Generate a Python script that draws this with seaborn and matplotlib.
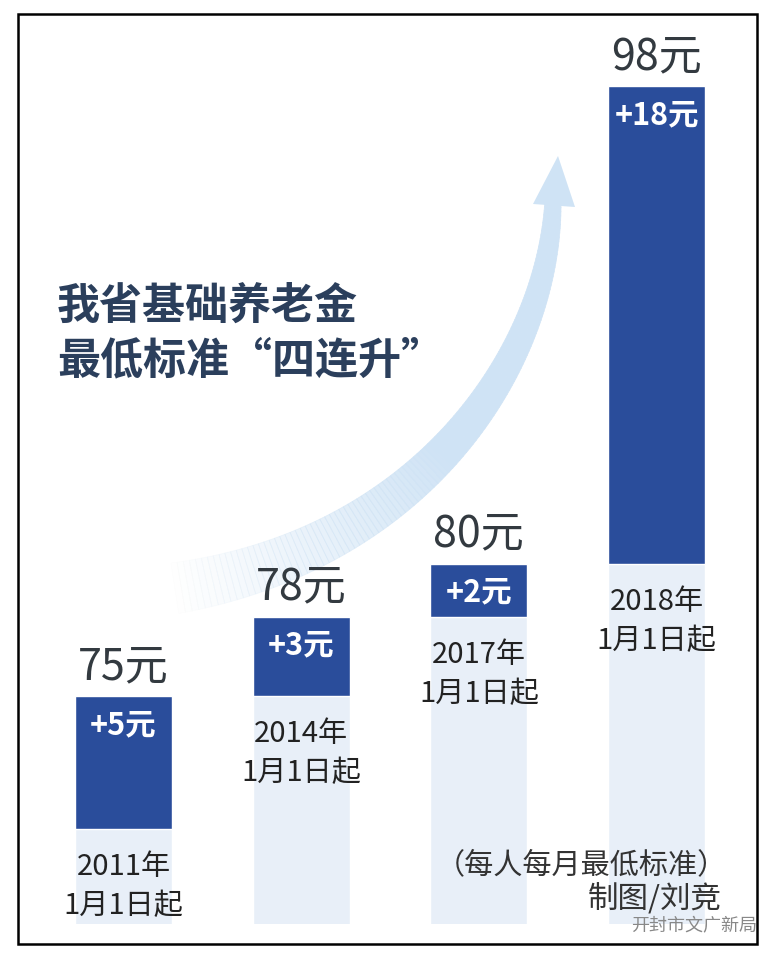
import numpy as np
import matplotlib
matplotlib.use("Agg")
import matplotlib.pyplot as plt
from matplotlib.patches import Rectangle, Polygon
from matplotlib.collections import PolyCollection
import seaborn as sns

# data
years = ["2011", "2014", "2017", "2018"]
values = [75, 78, 80, 98]
increase = [5, 3, 2, 18]
value_labels = ["75元", "78元", "80元", "98元"]
increase_labels = ["+5元", "+3元", "+2元", "+18元"]
date_labels = ["2011年\n1月1日起", "2014年\n1月1日起", "2017年\n1月1日起", "2018年\n1月1日起"]
base = [v - d for v, d in zip(values, increase)]

dark = "#2a4d9b"
light = "#e8eff8"

sns.set_style("white")
plt.rcParams['font.family'] = ['Noto Sans CJK SC', 'DejaVu Sans']

W, H = 780, 962
fig = plt.figure(figsize=(W / 100, H / 100), dpi=100)

# background layer in pixel coordinates (arrow, title)
bg = fig.add_axes([0, 0, 1, 1], zorder=0)
bg.set_xlim(0, W)
bg.set_ylim(H, 0)
bg.axis("off")

# curved arrow: cubic bezier centre line, tapering and fading towards the tail
p0, p1, p2, p3 = map(np.array, [(155, 592), (420, 560), (550, 360), (553, 200)])
t = np.linspace(0, 1, 120)
pts = ((1 - t) ** 3)[:, None] * p0 + (3 * (1 - t) ** 2 * t)[:, None] * p1 \
    + (3 * (1 - t) * t ** 2)[:, None] * p2 + (t ** 3)[:, None] * p3
d = np.gradient(pts, axis=0)
d /= np.linalg.norm(d, axis=1)[:, None]
nrm = np.stack([-d[:, 1], d[:, 0]], axis=1)
half = 26 - 18 * t
left = pts + nrm * half[:, None]
right = pts - nrm * half[:, None]
quads = [[left[i], left[i + 1], right[i + 1], right[i]] for i in range(len(t) - 1)]
alpha = np.clip((t[:-1] - 0.02) * 2.2, 0, 1)
cols = [(0.81, 0.89, 0.96, a) for a in alpha]
bg.add_collection(PolyCollection(quads, facecolors=cols, edgecolors=cols, linewidths=0.5))
bg.add_patch(Polygon([(533, 205), (558, 157), (575, 208)], closed=True,
                     facecolor=(0.81, 0.89, 0.96), edgecolor="none"))

title_color = "#2b3f5c"
bg.text(57, 306, "我省基础养老金", fontsize=31, fontweight="bold", color=title_color,
        ha="left", va="center")
bg.text(57, 360, "最低标准“四连升”", fontsize=31, fontweight="bold", color=title_color,
        ha="left", va="center")

# notes on top of the bars
fig.text(727 / W, 1 - 865 / H, "（每人每月最低标准）", fontsize=21, color="#333333",
         ha="right", va="center", zorder=10)
fig.text(722 / W, 1 - 900 / H, "制图/刘竞", fontsize=22, color="#333333",
         ha="right", va="center", zorder=10)
fig.text(757 / W, 1 - 926 / H, "开封市文广新局", fontsize=13, color="#888888",
         ha="right", va="center", style="italic", zorder=10)

# frame
fig.patches.append(Rectangle((18 / W, 1 - 945 / H), (757 - 18) / W, (945 - 15) / H,
                             transform=fig.transFigure, fill=False, edgecolor="black",
                             linewidth=1.8, zorder=5))

# bar axes: 70 yuan at y=830 px, 98 yuan at y=87 px
px = (830 - 87) / (98 - 70)
ax = fig.add_axes([18 / W, 1 - 925 / H, (757 - 18) / W, (925 - 15) / H], zorder=1)
ax.patch.set_alpha(0)

sns.barplot(x=years, y=values, order=years, color=dark, width=0.545, saturation=1, ax=ax)
sns.barplot(x=years, y=base, order=years, color=light, width=0.545, saturation=1, ax=ax)

spacing = (656.5 - 123.5) / 3
ax.set_xlim(-(123.5 - 18) / spacing, 3 + (757 - 656.5) / spacing)
ax.set_ylim(70 - (925 - 830) / px, 98 + (87 - 15) / px)
ax.axis("off")

for i in range(len(years)):
    ax.annotate(value_labels[i], (i, values[i]), xytext=(0, 30 * 0.72),
                textcoords="offset points", ha="center", va="center",
                fontsize=31, color="#333a40", annotation_clip=False)
    ax.annotate(increase_labels[i], (i, values[i]), xytext=(0, -28 * 0.72),
                textcoords="offset points", ha="center", va="center",
                fontsize=22, fontweight="bold", color="white", annotation_clip=False)
    line1, line2 = date_labels[i].split("\n")
    ax.annotate(line1, (i, base[i]), xytext=(0, -37 * 0.72),
                textcoords="offset points", ha="center", va="center",
                fontsize=21, color="#222222", annotation_clip=False)
    ax.annotate(line2, (i, base[i]), xytext=(0, -76 * 0.72),
                textcoords="offset points", ha="center", va="center",
                fontsize=21, color="#222222", annotation_clip=False)

fig.savefig("out.png", dpi=100, facecolor="white")
